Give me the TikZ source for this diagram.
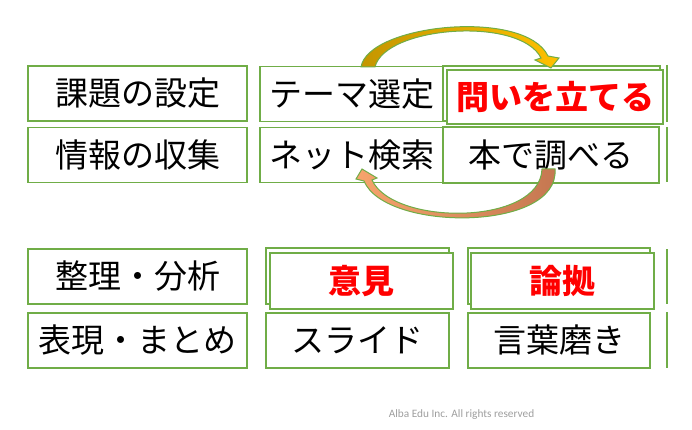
\documentclass[tikz,border=0pt]{standalone}
\usepackage{fontspec}
\newfontfamily\jpfont{Noto Sans CJK JP}
\newfontfamily\footfont{Carlito}

\definecolor{boxgreen}{RGB}{112,173,71}
\definecolor{goldL}{RGB}{196,150,0}
\definecolor{goldR}{RGB}{255,192,0}
\definecolor{rustR}{RGB}{196,118,80}
\definecolor{rustL}{RGB}{246,164,108}

\tikzstyle{stage}=[draw=boxgreen,line width=1.5pt,rectangle,fill=white,inner sep=0pt,
	minimum height=55pt,font=\jpfont\fontsize{33}{36}\selectfont]
\tikzstyle{key}=[stage,text=red,font=\jpfont\bfseries\fontsize{33}{36}\selectfont]
\tikzstyle{loop}=[draw=boxgreen,line width=1pt]

\begin{document}
\begin{tikzpicture}[x=1pt,y=-1pt]
	\useasboundingbox (0,0) rectangle (692,430);
	
	% first column
	\foreach \y/\txt [count=\nr] in {93.5/課題の設定, 155/情報の収集, 276.5/整理・分析, 340.5/表現・まとめ}{
		\node (P\nr)[stage,minimum width=219pt] at (137.5,\y) {\txt};
	}
	
	% right edge of the cut-off column
	\foreach \ya/\yb in {65/122, 127/182, 249/304, 312/368}{
		\draw[boxgreen,line width=1.5pt] (667,\ya) -- (667,\yb);
	}
	
	\node (T1)[stage,minimum width=183pt] at (351.5,94) {テーマ選定};
	\node (T2)[stage,minimum width=183pt] at (351.5,155) {ネット検索};
	\node (Q0)[stage,minimum width=217pt] at (551.5,93.5) {};
	\node (Q1)[key,minimum width=216pt,minimum height=54pt] at (555,97) {問いを立てる};
	\node (B1)[stage,minimum width=216pt,minimum height=56pt] at (551,155) {本で調べる};
	
	\node (O0)[stage,minimum width=183pt,minimum height=56pt] at (357.5,276) {};
	\node (O1)[key,minimum width=183pt,minimum height=56pt] at (361.5,281) {意見};
	\node (S1)[stage,minimum width=183pt] at (357.5,340.5) {スライド};
	\node (R0)[stage,minimum width=182pt,minimum height=56pt] at (559,276) {};
	\node (R1)[key,minimum width=183pt,minimum height=56pt] at (562.5,281) {論拠};
	\node (W1)[stage,minimum width=182pt] at (559,340.5) {言葉磨き};
	
	% curved arrows
	\path[loop,left color=goldL,right color=goldR]
		(361,67) .. controls (368,24) and (525,8) .. (548,56)
		-- (559,58) -- (551,68) -- (535,60) -- (541,58)
		.. controls (520,16) and (385,26) .. (375,67) -- cycle;
	\path[loop,left color=rustL,right color=rustR]
		(542,169) .. controls (540,226) and (393,226) .. (372,180)
		-- (377,178) -- (362,169) -- (356,179) -- (364,181)
		.. controls (385,232) and (560,232) .. (555,169) -- cycle;
	
	\node (rights)[font=\footfont\fontsize{11.3}{13}\selectfont,text=black!38] at (461.5,414.5) {Alba Edu Inc. All rights reserved};
\end{tikzpicture}
\end{document}
